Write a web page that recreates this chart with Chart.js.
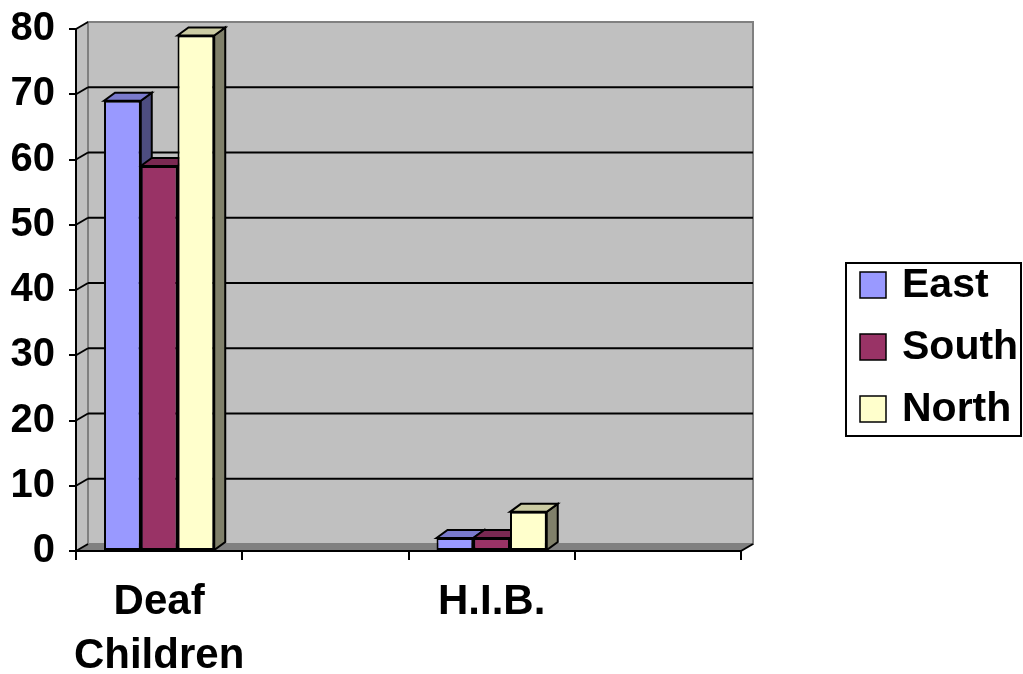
<!DOCTYPE html>
<html>
<head>
<meta charset="utf-8">
<script src="https://cdn.jsdelivr.net/npm/chart.js@4.4.1/dist/chart.umd.min.js"></script>
<style>
  html, body { margin: 0; padding: 0; background: #ffffff; }
  #wrap { width: 1023px; height: 674px; position: relative; }
</style>
</head>
<body>
<div id="wrap"><canvas id="chart"></canvas></div>
<script>
// Categories (two slots are left unlabelled and empty)
const categories = [['Deaf', 'Children'], '', 'H.I.B.', ''];
const seriesNames = ['East', 'South', 'North'];
const eastValues  = [69, null, 2, null];
const southValues = [59, null, 2, null];
const northValues = [79, null, 6, null];
const yTicks = [0, 10, 20, 30, 40, 50, 60, 70, 80];

const FONT = '"Liberation Sans", Arial, Helvetica, sans-serif';
const frontColors = ['#9999ff', '#993366', '#ffffcc'];
const topColors   = ['#7a7acc', '#7a2952', '#cccca3'];
const sideColors  = ['#4d4d80', '#4d1a33', '#80806a'];

// depth offsets for the 3D look
const WALL_DX = 12, WALL_DY = -7;
const BAR_DX = 11, BAR_DY = -8;

function poly(ctx, pts, fill, stroke, lw) {
  ctx.beginPath();
  ctx.moveTo(pts[0][0], pts[0][1]);
  for (let i = 1; i < pts.length; i++) ctx.lineTo(pts[i][0], pts[i][1]);
  ctx.closePath();
  if (fill) { ctx.fillStyle = fill; ctx.fill(); }
  if (stroke) { ctx.strokeStyle = stroke; ctx.lineWidth = lw || 1; ctx.stroke(); }
}

// Back wall, side wall, floor and the wall grid
const wallPlugin = {
  id: 'wall3d',
  beforeDraw(chart) {
    const ctx = chart.ctx;
    const a = chart.chartArea;
    const y = chart.scales.y;
    ctx.save();
    // side wall
    poly(ctx, [[a.left, a.top], [a.left + WALL_DX, a.top + WALL_DY],
               [a.left + WALL_DX, a.bottom + WALL_DY], [a.left, a.bottom]], '#c0c0c0');
    // back wall
    poly(ctx, [[a.left + WALL_DX, a.top + WALL_DY], [a.right + WALL_DX, a.top + WALL_DY],
               [a.right + WALL_DX, a.bottom + WALL_DY], [a.left + WALL_DX, a.bottom + WALL_DY]],
         '#c0c0c0', '#808080', 2);
    // floor
    poly(ctx, [[a.left, a.bottom], [a.right, a.bottom],
               [a.right + WALL_DX, a.bottom + WALL_DY], [a.left + WALL_DX, a.bottom + WALL_DY]],
         '#808080');
    // grid lines on the back wall plus the diagonal joining each tick
    ctx.lineWidth = 2;
    ctx.strokeStyle = '#000000';
    yTicks.forEach(v => {
      const py = y.getPixelForValue(v);
      ctx.beginPath();
      ctx.moveTo(a.left, py);
      ctx.lineTo(a.left + WALL_DX, py + WALL_DY);
      ctx.stroke();
      if (v > 0 && v < yTicks[yTicks.length - 1]) {
        ctx.beginPath();
        ctx.moveTo(a.left + WALL_DX, py + WALL_DY);
        ctx.lineTo(a.right + WALL_DX, py + WALL_DY);
        ctx.stroke();
      }
    });
    // right end of the category axis
    ctx.beginPath();
    ctx.moveTo(a.right, a.bottom);
    ctx.lineTo(a.right + WALL_DX, a.bottom + WALL_DY);
    ctx.stroke();
    ctx.restore();
  },
  // side and top faces of each bar, behind the front faces
  beforeDatasetsDraw(chart) {
    const ctx = chart.ctx;
    ctx.save();
    ctx.lineJoin = 'miter';
    chart.data.datasets.forEach((ds, di) => {
      const meta = chart.getDatasetMeta(di);
      meta.data.forEach((bar, i) => {
        if (ds.data[i] === null || ds.data[i] === undefined) return;
        const p = bar.getProps(['x', 'y', 'base', 'width'], true);
        const l = p.x - p.width / 2, r = p.x + p.width / 2;
        const t = p.y, b = p.base;
        poly(ctx, [[r, t], [r + BAR_DX, t + BAR_DY], [r + BAR_DX, b + BAR_DY], [r, b]],
             sideColors[di], '#000000', 2);
        poly(ctx, [[l, t], [l + BAR_DX, t + BAR_DY], [r + BAR_DX, t + BAR_DY], [r, t]],
             topColors[di], '#000000', 2);
      });
    });
    ctx.restore();
  },
  // boxed legend on the right
  afterDraw(chart) {
    const ctx = chart.ctx;
    ctx.save();
    ctx.strokeStyle = '#000000';
    ctx.lineWidth = 2;
    ctx.strokeRect(846, 263, 175, 173);
    const rowY = [285, 347, 409];
    ctx.font = 'bold 41px ' + FONT;
    ctx.textBaseline = 'middle';
    ctx.textAlign = 'left';
    chart.data.datasets.forEach((ds, di) => {
      const cy = rowY[di];
      ctx.fillStyle = frontColors[di];
      ctx.fillRect(860, cy - 13, 26, 26);
      ctx.lineWidth = 1.5;
      ctx.strokeRect(860, cy - 13, 26, 26);
      ctx.fillStyle = '#000000';
      ctx.fillText(ds.label, 902, cy + 1);
    });
    ctx.restore();
  }
};

const valueSets = [eastValues, southValues, northValues];

new Chart(document.getElementById('chart'), {
  type: 'bar',
  data: {
    labels: categories,
    datasets: seriesNames.map((name, i) => ({
      label: name,
      data: valueSets[i],
      backgroundColor: frontColors[i],
      borderColor: '#000000',
      borderWidth: 2,
      borderSkipped: false,
      categoryPercentage: 0.663,
      barPercentage: 1.0
    }))
  },
  options: {
    responsive: true,
    maintainAspectRatio: false,
    animation: false,
    events: [],
    layout: { padding: { top: 29, right: 282, left: 0, bottom: 0 } },
    plugins: {
      legend: { display: false },
      tooltip: { enabled: false }
    },
    scales: {
      x: {
        offset: true,
        grid: { display: true, drawOnChartArea: false, drawTicks: true, tickLength: 9,
                color: '#000000', lineWidth: 2, offset: true },
        border: { display: true, color: '#000000', width: 2 },
        ticks: {
          color: '#000000', padding: 15, maxRotation: 0, autoSkip: false,
          font: { family: FONT, size: 42, weight: 'bold', lineHeight: 1.29 }
        },
        afterFit(scale) { scale.height = 123; scale.paddingLeft = 0; scale.paddingRight = 0; }
      },
      y: {
        min: 0, max: 80,
        grid: { display: true, drawOnChartArea: false, drawTicks: true, tickLength: 7,
                color: '#000000', lineWidth: 2 },
        border: { display: true, color: '#000000', width: 2 },
        ticks: {
          stepSize: 10, color: '#000000', padding: 14,
          font: { family: FONT, size: 40, weight: 'bold' }
        },
        afterFit(scale) { scale.width = 76; scale.paddingTop = 0; scale.paddingBottom = 0; }
      }
    }
  },
  plugins: [wallPlugin]
});
</script>
</body>
</html>
